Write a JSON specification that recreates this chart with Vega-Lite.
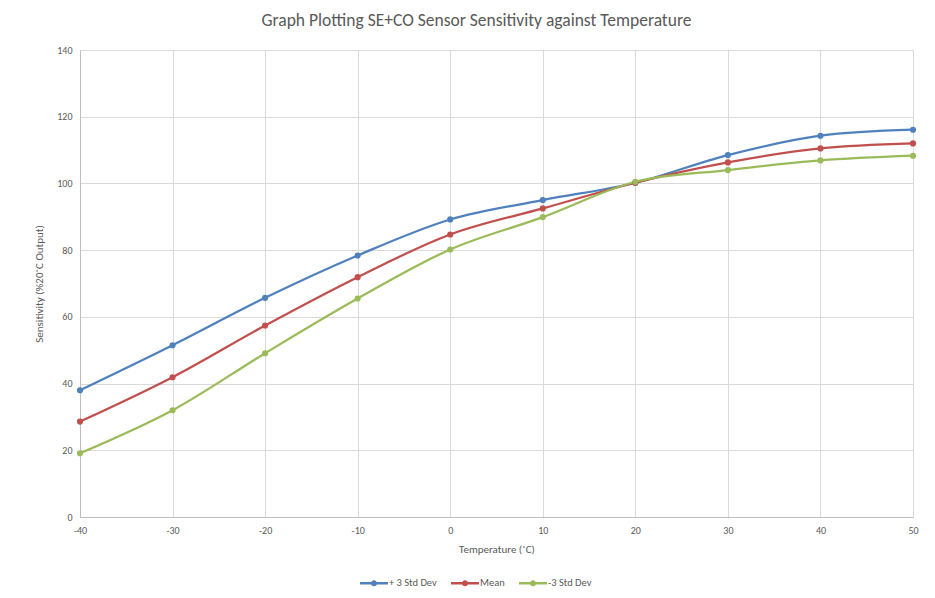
{
  "$schema": "https://vega.github.io/schema/vega-lite/v6.json",
  "width": 833,
  "height": 467,
  "autosize": {"type": "none"},
  "padding": {"left": 80, "top": 50, "right": 22, "bottom": 81},
  "background": "white",
  "title": {
    "text": "Graph Plotting SE+CO Sensor Sensitivity against Temperature",
    "font": "Carlito, Lato, sans-serif",
    "fontSize": 17.5,
    "fontWeight": "normal",
    "color": "#595959",
    "dx": -20,
    "offset": 16
  },
  "config": {
    "view": {"stroke": null},
    "font": "Carlito, Lato, sans-serif",
    "axis": {
      "labelFont": "Carlito, Lato, sans-serif",
      "titleFont": "Carlito, Lato, sans-serif",
      "labelColor": "#595959",
      "titleColor": "#595959",
      "labelFontSize": 10,
      "titleFontSize": 11,
      "titleFontWeight": "normal",
      "gridColor": "#d9d9d9",
      "gridWidth": 1,
      "domainColor": "#bfbfbf",
      "ticks": false,
      "labelFlush": false
    }
  },
  "data": {
    "values": [
      {"t": -40, "s": "+ 3 Std Dev", "v": 38.0},
      {"t": -30, "s": "+ 3 Std Dev", "v": 51.5},
      {"t": -20, "s": "+ 3 Std Dev", "v": 65.7},
      {"t": -10, "s": "+ 3 Std Dev", "v": 78.4},
      {"t": 0, "s": "+ 3 Std Dev", "v": 89.2},
      {"t": 10, "s": "+ 3 Std Dev", "v": 95.0},
      {"t": 20, "s": "+ 3 Std Dev", "v": 100.2},
      {"t": 30, "s": "+ 3 Std Dev", "v": 108.5},
      {"t": 40, "s": "+ 3 Std Dev", "v": 114.3},
      {"t": 50, "s": "+ 3 Std Dev", "v": 116.1},
      {"t": -40, "s": "Mean", "v": 28.6},
      {"t": -30, "s": "Mean", "v": 41.9},
      {"t": -20, "s": "Mean", "v": 57.4},
      {"t": -10, "s": "Mean", "v": 71.9},
      {"t": 0, "s": "Mean", "v": 84.7},
      {"t": 10, "s": "Mean", "v": 92.5},
      {"t": 20, "s": "Mean", "v": 100.2},
      {"t": 30, "s": "Mean", "v": 106.3},
      {"t": 40, "s": "Mean", "v": 110.5},
      {"t": 50, "s": "Mean", "v": 112.0},
      {"t": -40, "s": "-3 Std Dev", "v": 19.1},
      {"t": -30, "s": "-3 Std Dev", "v": 32.0},
      {"t": -20, "s": "-3 Std Dev", "v": 49.1},
      {"t": -10, "s": "-3 Std Dev", "v": 65.5},
      {"t": 0, "s": "-3 Std Dev", "v": 80.2},
      {"t": 10, "s": "-3 Std Dev", "v": 89.9},
      {"t": 20, "s": "-3 Std Dev", "v": 100.5},
      {"t": 30, "s": "-3 Std Dev", "v": 104.0},
      {"t": 40, "s": "-3 Std Dev", "v": 106.9},
      {"t": 50, "s": "-3 Std Dev", "v": 108.3}
    ]
  },
  "encoding": {
    "x": {
      "field": "t",
      "type": "quantitative",
      "scale": {"domain": [-40, 50], "nice": false, "zero": false},
      "axis": {"values": [-40, -30, -20, -10, 0, 10, 20, 30, 40, 50], "labelExpr": "'' + datum.value", "title": "Temperature (˚C)", "labelPadding": 8, "titlePadding": 8}
    },
    "y": {
      "field": "v",
      "type": "quantitative",
      "scale": {"domain": [0, 140], "nice": false},
      "axis": {"values": [0, 20, 40, 60, 80, 100, 120, 140], "title": "Sensitivity (%20˚C Output)", "labelPadding": 8, "titlePadding": 12}
    },
    "color": {
      "field": "s",
      "type": "nominal",
      "scale": {"domain": ["+ 3 Std Dev", "Mean", "-3 Std Dev"], "range": ["#4F81BD", "#C0504D", "#9BBB59"]},
      "legend": {
        "title": null,
        "orient": "none",
        "direction": "horizontal",
        "legendX": 280,
        "legendY": 519,
        "symbolType": "M-1,-0.09 L1,-0.09 L1,0.09 L-1,0.09 Z M0.22,0 A0.22,0.22 0 1,1 -0.22,0 A0.22,0.22 0 1,1 0.22,0 Z",
        "symbolSize": 784,
        "symbolStrokeWidth": 0,
        "symbolOpacity": 1,
        "labelFontSize": 10.5,
        "labelColor": "#595959",
        "labelOffset": 1,
        "columnPadding": 14
      }
    },
    "order": {"field": "t", "type": "quantitative"}
  },
  "layer": [
    {"mark": {"type": "line", "interpolate": "cardinal", "strokeWidth": 2.25}},
    {"mark": {"type": "point", "filled": true, "size": 38, "opacity": 1}}
  ]
}
